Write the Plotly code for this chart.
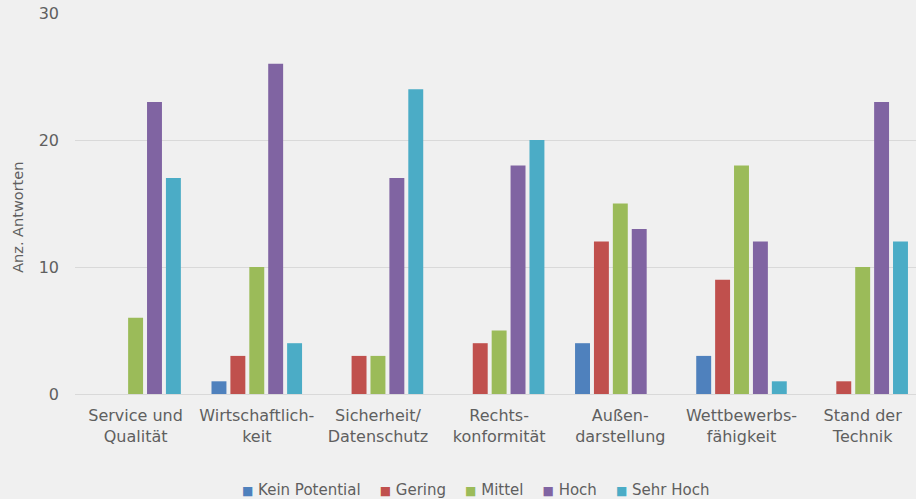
import plotly.graph_objects as go

categories = [
    "Service und<br>Qualität",
    "Wirtschaftlich-<br>keit",
    "Sicherheit/<br>Datenschutz",
    "Rechts-<br>konformität",
    "Außen-<br>darstellung",
    "Wettbewerbs-<br>fähigkeit",
    "Stand der<br>Technik",
]

kein_potential = [0, 1, 0, 0, 4, 3, 0]
gering = [0, 3, 3, 4, 12, 9, 1]
mittel = [6, 10, 3, 5, 15, 18, 10]
hoch = [23, 26, 17, 18, 13, 12, 23]
sehr_hoch = [17, 4, 24, 20, 0, 1, 12]

series_names = ["Kein Potential", "Gering", "Mittel", "Hoch", "Sehr Hoch"]
series_values = [kein_potential, gering, mittel, hoch, sehr_hoch]
series_colors = ["#4F81BD", "#C0504D", "#9BBB59", "#8064A2", "#4BACC6"]

font_family = "DejaVu Sans, Verdana, sans-serif"
text_color = "#5F5F5F"

fig = go.Figure()
for name, vals, color in zip(series_names, series_values, series_colors):
    fig.add_trace(go.Bar(
        name=name, x=categories, y=vals,
        marker=dict(color=color, line=dict(width=0)),
        showlegend=False,
    ))

# compact legend row: coloured square followed by the series name
nbsp = "\u00a0"
legend_parts = []
for name, color in zip(series_names, series_colors):
    legend_parts.append(
        f"<span style='color:{color};font-size:12px'>■</span>{nbsp}{name}"
    )
legend_text = (nbsp * 4).join(legend_parts)

fig.update_layout(
    width=916, height=499,
    paper_bgcolor="#F0F0F0", plot_bgcolor="#F0F0F0",
    margin=dict(l=75, r=0, t=13, b=105, autoexpand=False),
    barmode="group", bargap=0.22, bargroupgap=0.21,
    font=dict(family=font_family, size=15, color=text_color),
    xaxis=dict(showgrid=False, showline=True, linecolor="#D9D9D9", linewidth=1,
               ticks="", range=[-0.5, 6.44], ticklabelstandoff=7,
               tickfont=dict(size=16, color=text_color)),
    yaxis=dict(range=[0, 30], dtick=10, showgrid=True, gridcolor="#D9D9D9",
               gridwidth=1, zeroline=False, showline=False, ticks="",
               ticklabelstandoff=15,
               tickfont=dict(size=16, color=text_color)),
    annotations=[
        dict(text="Anz. Antworten", textangle=-90, xref="paper", yref="paper",
             x=-0.0678, y=0.465, xanchor="center", yanchor="middle",
             showarrow=False, font=dict(size=14.5, color=text_color)),
        dict(text=legend_text, xref="paper", yref="paper",
             x=0.476, y=-0.252, xanchor="center", yanchor="middle",
             showarrow=False, font=dict(size=15, color=text_color)),
    ],
)

fig.write_html("out.html")
